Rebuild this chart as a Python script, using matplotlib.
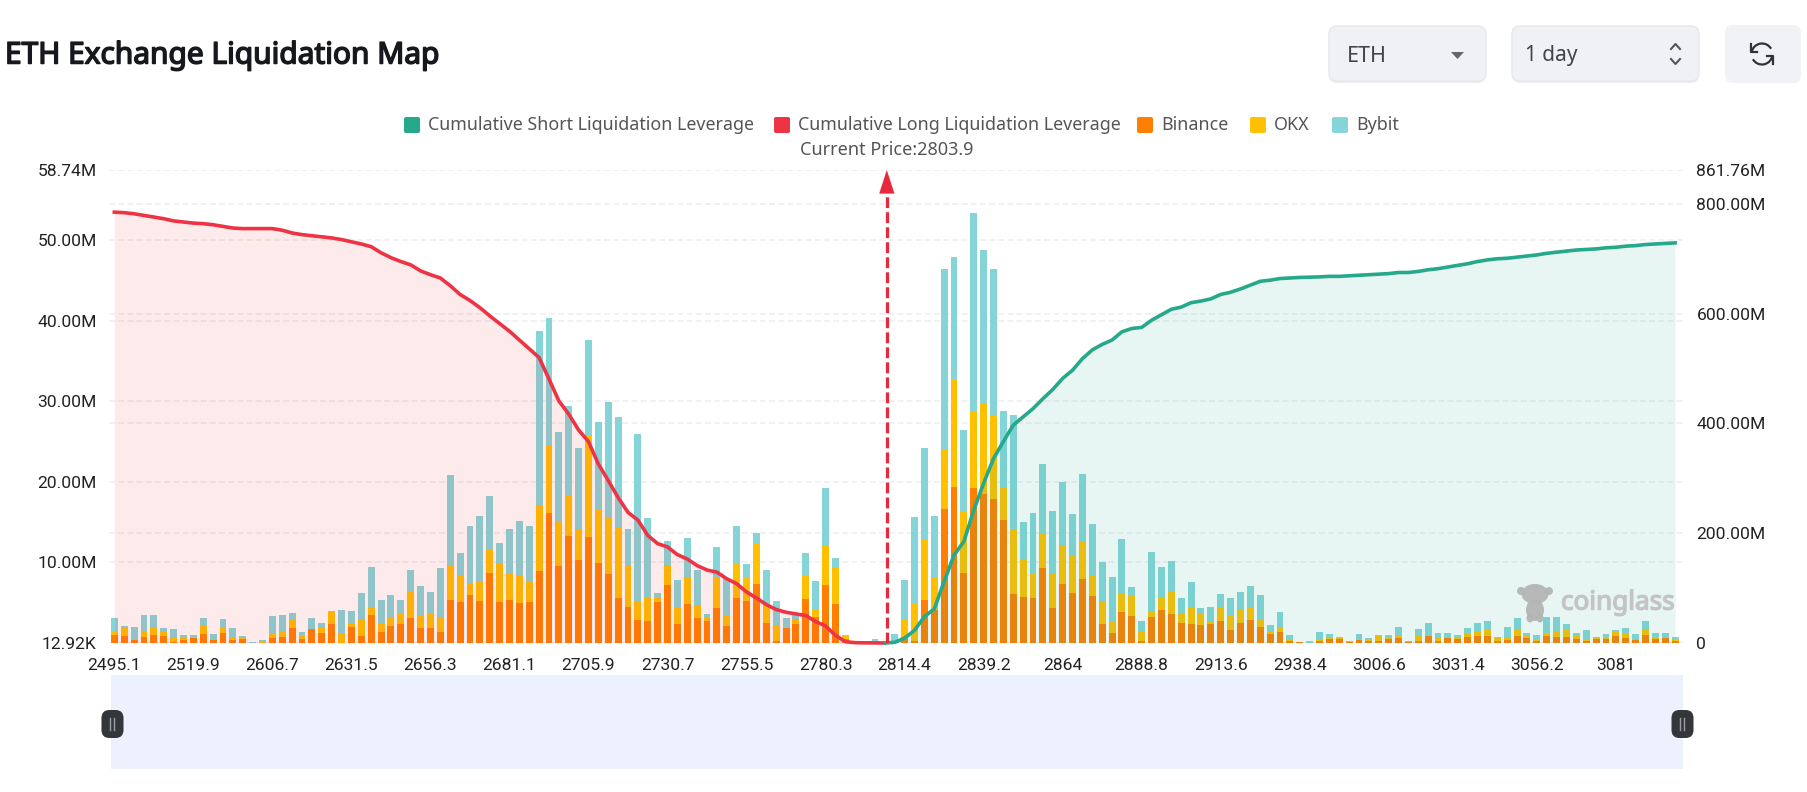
import matplotlib.pyplot as plt
import matplotlib.patheffects as pe
from matplotlib.patches import Arc, Circle, Ellipse, FancyBboxPatch, Polygon, Rectangle

# Tick labels of the price axis (one out of eight categories)
price_labels = ["2495.1", "2519.9", "2606.7", "2631.5", "2656.3", "2681.1", "2705.9", "2730.7", "2755.5", "2780.3",
                "2814.4", "2839.2", "2864", "2888.8", "2913.6", "2938.4", "3006.6", "3031.4", "3056.2", "3081"]
current_price = 2803.9
current_position = 78.2  # between the categories

# Liquidation per exchange, millions
binance = [1.03, .83, .41, .74, .95, .91, .08, .41, .58, 1.16,
           .33, 1.24, .41, .54, .04, .04, .58, .78, 1.9, .45,
           1.69, 1.2, 2.39, .04, 1.94, .91, 3.51, 1.4, 2.15, 2.39,
           3.05, 1.82, 1.82, 1.32, 5.36, 5.03, 5.9, 5.16, 8.66, 5.07,
           5.28, 4.95, 5.03, 8.99, 16.09, 9.61, 13.28, 10.35, 13.2, 9.94,
           8.62, 5.57, 4.46, 2.81, 2.68, 5.07, 7.26, 2.31, 4.79, 3.05,
           2.72, 4.33, 2.1, 5.57, 5.16, 7.38, 2.43, .21, 1.9, 2.39,
           5.49, 3.22, 7.22, 4.79, .54, .02, .02, .04, .02, .04,
           .62, .21, 5.36, 4.13, 16.63, 19.39, 8.75, 19.27, 18.56, 17.9,
           15.26, 6.11, 5.69, 5.61, 9.32, 4.33, 7.34, 6.27, 8.0, 5.78,
           2.31, 1.2, 3.8, 3.38, .29, 3.18, 4.13, 3.55, 2.43, 2.31,
           2.23, 2.35, 2.68, 1.57, 2.43, 2.81, 2.02, 1.11, 1.32, .21,
           .08, .04, .29, .5, .54, .12, .41, .21, .29, .5,
           .58, .12, .29, .91, .21, .62, .54, .7, .83, .83,
           .25, .33, .91, .58, .25, .83, .7, .7, .54, .25,
           .5, .45, .83, .58, .37, 1.03, .45, .58, .25]
okx = [.33, .99, .12, .58, .87, .62, .54, .29, .12, .99,
       .21, .7, .33, .12, 0, .21, .62, .54, .95, .54,
       .08, .66, 1.49, 1.07, .5, 2.06, .95, 1.11, 1.03, 1.16,
       3.3, 1.49, 1.82, 1.73, 4.25, 3.38, 1.53, 2.48, 2.97, 4.87,
       3.3, 3.51, 2.64, 8.04, 8.5, 5.57, 5.12, 3.84, 12.5, 6.6,
       7.05, 8.87, 5.24, 2.27, 3.09, .5, 2.48, 2.06, 3.42, 1.73,
       .37, 3.71, 1.32, 4.25, 2.93, 5.03, 2.23, 1.9, .08, .54,
       2.93, .91, 4.87, 4.54, .29, 0, 0, 0, 0, 0,
       2.19, 4.58, 7.43, 4.0, 7.38, 13.28, 7.67, 9.53, 11.14, 10.31,
       3.96, 8.0, 4.62, 2.97, 4.37, 4.33, 4.7, 4.58, 4.5, 2.48,
       2.72, 1.57, 2.35, 2.52, 1.07, .74, 1.61, 2.93, 1.24, 2.1,
       1.44, .25, 1.73, 1.82, 1.77, 1.65, .91, .33, .7, .25,
       .04, 0, .25, .25, .08, .08, .08, .17, .62, .08,
       .37, .08, .58, .08, .37, .04, .17, .41, .54, .74,
       .33, .37, .66, .33, .25, .41, .62, .91, .29, .25,
       .08, .12, .58, .62, .12, .66, .17, .08, .08]
bybit = [1.73, .33, 1.49, 2.1, 1.61, .33, 1.11, .33, .29, .95,
         .58, 1.03, 1.11, .25, .12, .17, 2.15, 2.1, .83, .41,
         1.36, .58, .04, 2.93, 1.57, 3.3, 5.03, 2.89, 2.72, 1.77,
         2.68, 3.71, 2.72, 6.31, 11.26, 2.8, 7.1, 8.17, 6.64, 2.43,
         5.57, 6.64, 6.89, 21.74, 15.76, 11.06, 11.01, 10.07, 11.96, 10.93,
         14.27, 13.61, 4.41, 20.92, 9.78, .62, 2.97, 3.51, 4.83, 4.33,
         .45, 3.92, 4.54, 4.74, 1.77, 1.28, 4.46, 3.05, 1.07, .5,
         2.72, 3.51, 7.22, 1.2, .12, .02, .02, .41, .02, 1.11,
         5.03, 10.81, 11.43, 7.63, 22.44, 15.26, 10.02, 24.59, 19.14, 18.19,
         9.65, 14.23, 4.74, 7.51, 8.54, 7.71, 7.96, 5.2, 8.5, 6.48,
         5.07, 5.4, 6.72, 1.11, 1.32, 7.34, 3.71, 3.75, 1.98, 3.22,
         .62, 1.9, 1.69, 2.23, 2.19, 2.56, 3.09, .74, 1.82, .58,
         .04, .25, .78, .41, .17, .04, .58, .21, .04, .37,
         1.07, .04, .83, 1.44, .7, .62, .33, .74, 1.11, 1.11,
         .21, 1.24, 1.53, .37, .54, 1.98, 1.9, .74, .41, 1.11,
         .21, .58, .17, .7, .62, 1.07, .58, .54, .45]

# Cumulative leverage, millions (long: categories 0-78, short: categories 78-158)
cumulative_long = [785, 784, 782, 779, 776, 773, 769, 767, 765, 764,
                   762, 759, 756, 755, 755, 755, 755, 752, 747, 744,
                   742, 740, 738, 735, 731, 727, 722, 711, 702, 695,
                   689, 678, 671, 665, 651, 635, 624, 611, 596, 582,
                   568, 552, 536, 520, 481, 441, 417, 388, 367, 326,
                   296, 265, 238, 224, 196, 181, 175, 161, 153, 141,
                   133, 129, 117, 108, 93, 82, 70, 61, 56, 53,
                   50, 39, 31, 14, 2.4, .6, .3, .2, 0]
cumulative_short = [0, 1.2, 9, 23, 48, 62, 112, 160, 185, 242,
                    291, 336, 367, 397, 412, 427, 445, 462, 482, 497,
                    518, 534, 544, 552, 567, 573, 575, 588, 598, 608,
                    612, 620, 623, 627, 635, 639, 645, 652, 659, 661,
                    664, 665, 666, 666.5, 667, 668, 668, 669, 670, 671,
                    672, 673, 675, 675, 677, 680, 682, 685, 688, 691,
                    695, 698, 700, 701, 703, 705, 707, 710, 712, 714,
                    716, 717, 718, 720, 721, 723, 724, 726, 727, 728,
                    729]

# Axis ticks
left_ticks = [0.01292, 10, 20, 30, 40, 50, 58.74]
left_labels = ["12.92K", "10.00M", "20.00M", "30.00M", "40.00M", "50.00M", "58.74M"]
right_ticks = [0, 200, 400, 600, 800, 861.76]
right_labels = ["0", "200.00M", "400.00M", "600.00M", "800.00M", "861.76M"]

GREEN = "#26A98B"
RED = "#EE3344"
ORANGE = "#FF8000"
YELLOW = "#FFC000"
TEAL = "#85D5D8"

plt.rcParams["font.family"] = ["Roboto", "DejaVu Sans"]

plt.figure(figsize=(18.07, 7.92), dpi=100)

# Main chart: pixels 109-1684 across, 170-643 down
ax = plt.axes([109.4 / 1807, 1 - 643 / 792, (1684 - 109.4) / 1807, (643 - 170) / 792])
x = list(range(len(binance)))

# Stacked bars
bottom_okx = [a for a in binance]
bottom_bybit = [a + b for a, b in zip(binance, okx)]
plt.bar(x, binance, width=0.7, bottom=0.01292, color=ORANGE, zorder=3)
plt.bar(x, okx, width=0.7, bottom=bottom_okx, color=YELLOW, zorder=3)
plt.bar(x, bybit, width=0.7, bottom=bottom_bybit, color=TEAL, zorder=3)
plt.xlim(-0.5, 158.9)
plt.ylim(0.01292, 58.74)
plt.xticks(x[::8], price_labels, fontsize=12.6, color="#222222")
plt.yticks(left_ticks, left_labels, fontsize=12.6, color="#222222")
ax.tick_params(axis="both", length=0)
ax.tick_params(axis="x", pad=11)
ax.tick_params(axis="y", pad=9)

# Right axis grid goes on the left axis so that it stays under the bars
ax.set_yticks([t * 58.74 / 861.76 for t in right_ticks], minor=True)
ax.tick_params(axis="y", which="minor", length=0)
ax.grid(axis="y", which="both", color="#EDEEF0", linestyle=(0, (4, 2)), linewidth=1.1, zorder=0)
for side in ax.spines:
    ax.spines[side].set_visible(False)

# Cumulative curves on the right axis
ax2 = plt.twinx()
long_x = x[:len(cumulative_long)]
short_x = x[78:]
plt.fill_between(long_x, cumulative_long, 0, color=RED, alpha=0.1, linewidth=0, zorder=2)
plt.fill_between(short_x, cumulative_short, 0, color=GREEN, alpha=0.1, linewidth=0, zorder=2)
plt.plot(long_x, cumulative_long, color=RED, linewidth=2.6, solid_joinstyle="round", zorder=4, clip_on=False)
plt.plot(short_x, cumulative_short, color=GREEN, linewidth=2.6, solid_joinstyle="round", zorder=4, clip_on=False)
plt.ylim(0, 861.76)
plt.yticks(right_ticks, right_labels, fontsize=12.6, color="#222222")
ax2.tick_params(axis="y", length=0, pad=9)
for side in ax2.spines:
    ax2.spines[side].set_visible(False)

# Current price marker
plt.plot([current_position, current_position], [0, 815], color="#E8283C", linewidth=2.3,
         linestyle=(0, (3.4, 1.3)), zorder=5)
plt.annotate("", xy=(current_position, 861.76), xytext=(current_position, 815),
             arrowprops=dict(arrowstyle="-|>,head_width=0.55,head_length=1.7", color="#E8283C",
                             linewidth=0, shrinkA=0, shrinkB=0), zorder=5)
plt.annotate("Current Price:" + str(current_price), xy=(current_position, 861.76), xytext=(0, 14.5),
             textcoords="offset points", ha="center", va="center", fontsize=13,
             family=["Noto Sans", "DejaVu Sans"], color="#555555")

# Page furniture, in pixels of the picture
page = plt.axes([0, 0, 1, 1], facecolor="none")
plt.xlim(0, 1807)
plt.ylim(792, 0)
plt.axis("off")

plt.text(5, 56, "ETH Exchange Liquidation Map", fontsize=21.5, va="center",
         family=["Noto Sans", "DejaVu Sans"], color="#16181D",
         path_effects=[pe.withStroke(linewidth=1.1, foreground="#16181D")])

# Legend
legend_swatches = [404, 774, 1137, 1250, 1332]
legend_colors = [GREEN, RED, ORANGE, YELLOW, TEAL]
legend_texts = ["Cumulative Short Liquidation Leverage", "Cumulative Long Liquidation Leverage",
                "Binance", "OKX", "Bybit"]
for left, colour, label in zip(legend_swatches, legend_colors, legend_texts):
    page.add_patch(FancyBboxPatch((left + 1, 118), 14, 14, boxstyle="round,pad=1,rounding_size=2",
                                  facecolor=colour, edgecolor="none"))
    plt.text(left + 24, 125.5, label, fontsize=12.85, va="center", color="#555555",
             family=["Noto Sans", "DejaVu Sans"])

# Dropdowns and refresh button
for left, width in [(1333, 149), (1516, 179)]:
    page.add_patch(FancyBboxPatch((left, 32), width, 47, boxstyle="round,pad=4,rounding_size=8",
                                  facecolor="#E6E8EC", edgecolor="none", alpha=0.7))
    page.add_patch(FancyBboxPatch((left, 30), width, 47, boxstyle="round,pad=4,rounding_size=8",
                                  facecolor="#EFF1F5", edgecolor="#E6E8EC", linewidth=1))
page.add_patch(FancyBboxPatch((1729, 29), 68, 50, boxstyle="round,pad=4,rounding_size=8",
                              facecolor="#F0F2F5", edgecolor="none"))
plt.text(1347, 56, "ETH", fontsize=15.5, va="center", color="#444444", family=["Noto Sans", "DejaVu Sans"])
plt.text(1525, 56, "1 day", fontsize=15, va="center", color="#444444", family=["Noto Sans", "DejaVu Sans"])
page.add_patch(Polygon([[1451, 52], [1464, 52], [1457.5, 59]], facecolor="#666666", edgecolor="none"))
plt.plot([1671, 1675.5, 1680], [49, 44, 49], color="#555555", linewidth=1.5)
plt.plot([1671, 1675.5, 1680], [59, 64, 59], color="#555555", linewidth=1.5)
page.add_patch(Arc((1762, 54), 21, 21, theta1=190, theta2=330, color="#333333", linewidth=1.6))
page.add_patch(Arc((1762, 54), 21, 21, theta1=10, theta2=150, color="#333333", linewidth=1.6))
plt.plot([1751, 1751, 1757], [44, 52, 52], color="#333333", linewidth=1.6)
plt.plot([1767, 1773, 1773], [56, 56, 64], color="#333333", linewidth=1.6)

# Zoom slider below the chart
page.add_patch(Rectangle((110.6, 675), 1572.4, 94, facecolor="#EDF1FD", edgecolor="none"))
for handle_x in [112.5, 1682.5]:
    page.add_patch(FancyBboxPatch((handle_x - 7, 714), 14, 20, boxstyle="round,pad=4,rounding_size=8",
                                  facecolor="#33363B", edgecolor="none", zorder=5))
    plt.plot([handle_x - 2, handle_x - 2], [718, 730], color="#9A9DA3", linewidth=1, zorder=6)
    plt.plot([handle_x + 2, handle_x + 2], [718, 730], color="#9A9DA3", linewidth=1, zorder=6)

# Watermark
for shape in [Ellipse((1535, 594), 27, 20), Ellipse((1535, 610), 18, 22), Circle((1521, 591), 4),
              Circle((1549, 591), 4), Ellipse((1530, 618), 7, 9), Ellipse((1540, 618), 7, 9)]:
    shape.set(facecolor="#B5B5B5", edgecolor="none", alpha=0.95)
    page.add_patch(shape)
plt.text(1561, 603, "coinglass", fontsize=18.8, va="center", color="#C4C4C4",
         family=["Noto Sans", "DejaVu Sans"],
         path_effects=[pe.withStroke(linewidth=1.0, foreground="#C4C4C4")])

plt.savefig("out.png", dpi=100)
plt.close()
